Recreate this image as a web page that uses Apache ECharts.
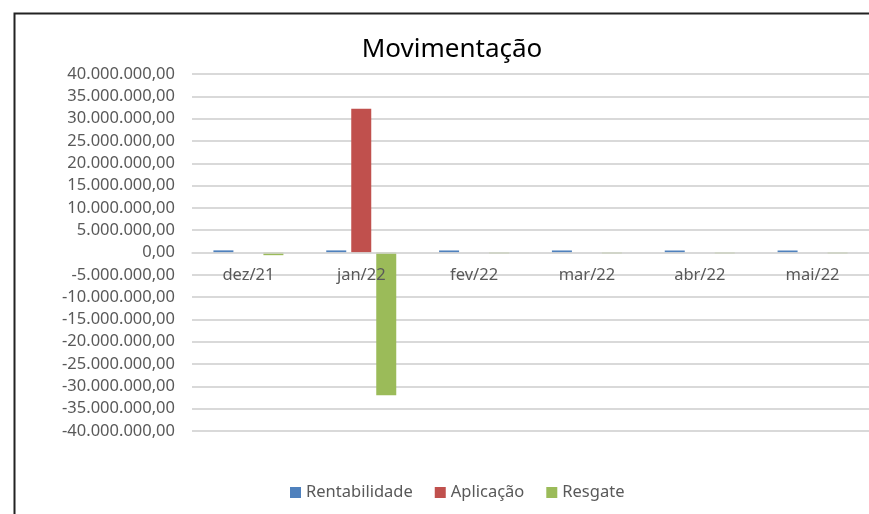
<!DOCTYPE html>
<html>
<head>
<meta charset="utf-8">
<style>
  html, body { margin: 0; padding: 0; background: #fff; }
  #chart { width: 869px; height: 514px; }
</style>
<script src="https://cdn.jsdelivr.net/npm/echarts@6/dist/echarts.min.js"></script>
</head>
<body>
<div id="chart"></div>
<script>
// valores
const meses = ['dez/21', 'jan/22', 'fev/22', 'mar/22', 'abr/22', 'mai/22']
const rentabilidade = [480000, 470000, 460000, 460000, 450000, 450000]
const aplicacao = [0, 32200000, 0, 0, 0, 0]
const resgate = [-600000, -32000000, -220000, -220000, -220000, -220000]

const fonte = '"Noto Sans", sans-serif'
const cinzaTexto = '#595959'

// 40000000 -> "40.000.000,00"
function formatBR(v) {
  const neg = v < 0
  let s = Math.abs(Math.round(v)).toString()
  s = s.replace(/\B(?=(\d{3})+(?!\d))/g, '.')
  return (neg ? '-' : '') + s + ',00'
}

const chart = echarts.init(document.getElementById('chart'))
chart.setOption({
  animation: false,
  textStyle: { fontFamily: fonte },
  graphic: [{
    type: 'rect',
    left: 12,
    top: 11,
    shape: { width: 900, height: 600 },
    style: { fill: 'none', stroke: '#222', lineWidth: 2 },
    silent: true
  }],
  title: {
    text: 'Movimentação',
    left: 447,
    textAlign: 'center',
    top: 32,
    textStyle: { fontFamily: fonte, fontSize: 26, fontWeight: 'normal', color: '#000' }
  },
  legend: {
    bottom: 8,
    left: 285,
    itemWidth: 11,
    itemHeight: 11,
    itemGap: 22,
    icon: 'rect',
    textStyle: { fontFamily: fonte, fontSize: 16.5, color: cinzaTexto },
    data: ['Rentabilidade', 'Aplicação', 'Resgate']
  },
  grid: {
    left: 192,
    top: 74,
    width: 699,
    height: 357
  },
  xAxis: {
    type: 'category',
    data: meses,
    // eixo desenhado na linha do zero, rótulos por cima das barras
    offset: -178.5,
    z: 5,
    axisLine: { onZero: false, lineStyle: { color: '#D9D9D9', width: 1.5 } },
    axisTick: { show: false },
    axisLabel: { fontFamily: fonte, fontSize: 16.5, color: cinzaTexto, margin: 14 }
  },
  yAxis: {
    type: 'value',
    min: -40000000,
    max: 40000000,
    interval: 5000000,
    axisLine: { show: false },
    axisTick: { show: false },
    splitLine: { lineStyle: { color: '#D9D9D9', width: 2 } },
    axisLabel: {
      fontFamily: fonte,
      fontSize: 16.5,
      color: cinzaTexto,
      margin: 17,
      formatter: formatBR
    }
  },
  series: [
    {
      name: 'Rentabilidade',
      type: 'bar',
      data: rentabilidade,
      barWidth: 20,
      barGap: '25%',
      itemStyle: { color: '#4F81BD' }
    },
    {
      name: 'Aplicação',
      type: 'bar',
      data: aplicacao,
      barWidth: 20,
      barGap: '25%',
      itemStyle: { color: '#C0504D' }
    },
    {
      name: 'Resgate',
      type: 'bar',
      data: resgate,
      barWidth: 20,
      barGap: '25%',
      itemStyle: { color: '#9BBB59' }
    }
  ]
})
</script>
</body>
</html>
